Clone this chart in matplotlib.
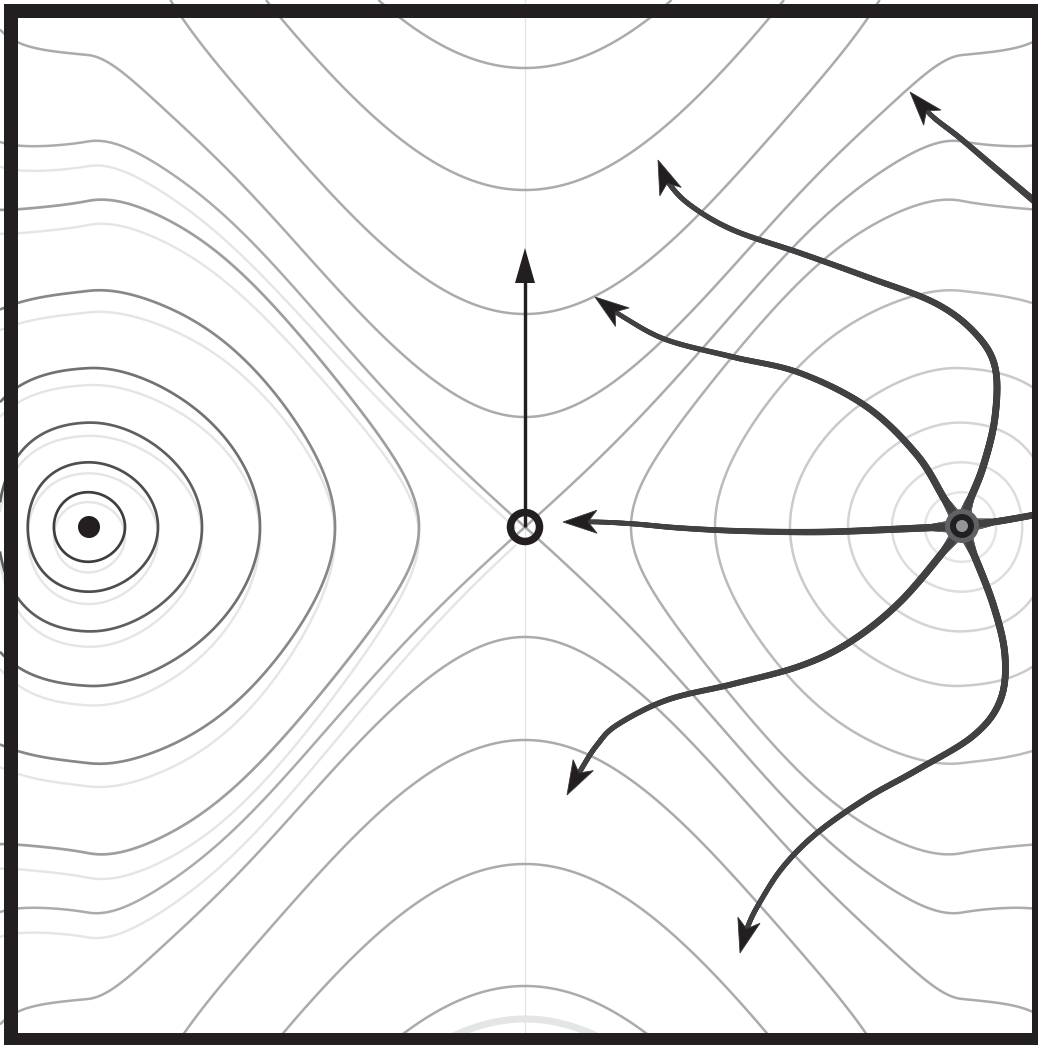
import numpy as np
import matplotlib
matplotlib.use("Agg")
import matplotlib.pyplot as plt
from matplotlib.patches import Circle, Rectangle, Polygon
from matplotlib.collections import LineCollection

# ---------------------------------------------------------------- canvas
W_PX, H_PX, DPI = 1038, 1045, 100
PX = 72.0 / DPI                     # points per pixel

# ---------------------------------------------------------------- key points (pixels)
saddle_xy = (525, 527)
left_min_xy = (89, 527)
right_pt_xy = (962, 526)
unit_px = 437.0                      # distance saddle -> well

# contour crossings (pixels)
ring_inner_x = [125, 158, 202, 260, 335, 419]      # closed rings, crossing on the axis (saddle side)
vertex_y = [417, 314, 190, 68]                     # hyperbola vertices above the saddle
bottom_vertex_y = 984                              # lowest dark hyperbola vertex
bottom_arc_vertex_y = 1019                         # light arc at the bottom

# colours
left_ring_colors = ["#3e3e40", "#4e4e50", "#5e5f61", "#707173", "#87888b", "#9c9ea1"]
right_ring_colors = ["#e3e4e5", "#dcdddf", "#d3d4d6", "#c9cacc", "#b9bbbd", "#adafb2"]
line_gray = "#a9abae"
light_gray = "#e4e5e6"
ink = "#231f20"
arm_gray = "#414042"
halo_gray = "#606163"
center_gray = "#939598"

# arrows (pixels)
up_arrow_start = (525, 527)
up_arrow_tip = (525, 248)

arm_saddle_x = [962, 900, 820, 740, 680, 635, 598, 563]
arm_saddle_y = [526, 529, 532, 531, 528, 524, 522, 522]
arm_right_x = [962, 1000, 1045]
arm_right_y = [526, 521, 513]
arm_upleft_x = [962, 945, 917, 867, 800, 733, 667, 625, 595]
arm_upleft_y = [526, 500, 455, 407, 373, 357, 340, 318, 297]
arm_up_x = [962, 968, 983, 995, 995, 975, 935, 867, 800, 733, 690, 668, 658]
arm_up_y = [526, 505, 467, 417, 367, 333, 303, 277, 253, 230, 205, 182, 160]
arm_downleft_x = [962, 947, 900, 850, 800, 733, 667, 617, 597, 582, 567]
arm_downleft_y = [526, 547, 602, 642, 666, 684, 700, 725, 745, 768, 795]
arm_down_x = [962, 970, 993, 1005, 1000, 973, 917, 867, 817, 783, 760, 748, 740]
arm_down_y = [526, 545, 604, 656, 701, 736, 770, 798, 833, 867, 902, 926, 953]
arm_topright_x = [1045, 1000, 960, 932, 910]
arm_topright_y = [210, 172, 138, 116, 92]


# ---------------------------------------------------------------- surface
def field(u, v):
    au = np.abs(u)
    base = (u ** 2 - 1) ** 2
    t_c = 0.41 * (np.sqrt(1 + (v / 0.29) ** 2) - 1)          # open growth near the saddle
    d = np.clip(au - 1, 0, None)
    amp = 4.29 - 32.0 * d ** 2
    kk = 2.95 - 12.5 * d ** 2
    t_w = amp * v ** 2 / (1 + kk * v ** 2)                    # round wells
    centre = 0.70 + 0.15 * (1 - np.exp(-(v / 0.7) ** 2))
    w = 1.0 / (1.0 + np.exp(-(au - centre) / 0.09))
    return base + (1 - w) * t_c + w * t_w


def to_uv(x, y):
    return (np.asarray(x, float) - saddle_xy[0]) / unit_px, (saddle_xy[1] - np.asarray(y, float)) / unit_px


def catmull_rom(xs, ys, n=40):
    P = np.column_stack([xs, ys]).astype(float)
    P = np.vstack([P[0], P, P[-1]])
    out = [P[1]]
    t = np.linspace(0, 1, n)[1:, None]
    for i in range(1, len(P) - 2):
        p0, p1, p2, p3 = P[i - 1], P[i], P[i + 1], P[i + 2]
        c1 = p1 + (p2 - p0) / 6.0
        c2 = p2 - (p3 - p1) / 6.0
        seg = (1 - t) ** 3 * p1 + 3 * (1 - t) ** 2 * t * c1 + 3 * (1 - t) * t ** 2 * c2 + t ** 3 * p2
        out.extend(seg)
    return np.array(out)


def draw_arm(ax, xs, ys, w0, w1, head=True, z=6):
    pts = catmull_rom(xs, ys)
    s = np.concatenate([[0], np.cumsum(np.hypot(*np.diff(pts, axis=0).T))])
    total = s[-1]
    L, HW, notch = 34, 11.5, 9
    body = pts
    if head:
        tip = pts[-1]
        j = np.searchsorted(s, total - 16)
        d = tip - pts[j]
        d = d / np.hypot(*d)
        nrm = np.array([-d[1], d[0]])
        body = pts[s <= total - (L - notch) + 2]
    sb = s[:len(body)]
    segs = np.stack([body[:-1], body[1:]], axis=1)
    frac = sb[:-1] / total
    widths = (w0 + (w1 - w0) * frac) * PX
    ax.add_collection(LineCollection(segs, linewidths=widths, colors=arm_gray,
                                     capstyle="round", joinstyle="round", zorder=z))
    near = s <= 30
    hp = pts[near]
    if len(hp) > 2 and np.hypot(*(pts[0] - np.array(right_pt_xy))) < 5:
        hs = np.stack([hp[:-1], hp[1:]], axis=1)
        hw = (15 - 8 * s[near][:-1] / 30.0) * PX
        ax.add_collection(LineCollection(hs, linewidths=hw, colors=halo_gray,
                                         capstyle="round", zorder=z - 0.5))
    if head:
        poly = [tip, tip - L * d + HW * nrm, tip - (L - notch) * d, tip - L * d - HW * nrm]
        ax.add_patch(Polygon(poly, closed=True, facecolor=ink, edgecolor="#3a3a3c",
                             lw=0.8 * PX, zorder=z + 1))


# ---------------------------------------------------------------- figure
fig = plt.figure(figsize=(W_PX / DPI, H_PX / DPI), dpi=DPI)
ax = fig.add_axes([0, 0, 1, 1])
ax.set_xlim(0, W_PX)
ax.set_ylim(H_PX, 0)
ax.axis("off")

gx = np.arange(0, W_PX + 2, 2.0)
gy = np.arange(0, H_PX + 2, 2.0)
X, Y = np.meshgrid(gx, gy)
U, Vv = to_uv(X, Y)
Z = field(U, Vv)

ring_levels = [float(field(to_uv(x, saddle_xy[1])[0], 0.0)) for x in ring_inner_x]
sep_level = float(field(0.0, 0.0))
hyper_levels = [float(field(0.0, to_uv(saddle_xy[0], y)[1])) for y in vertex_y]

# light vertical guide through the saddle
ax.plot([saddle_xy[0], saddle_xy[0]], [0, H_PX], color="#e3e4e5", lw=1.3 * PX, zorder=1)

# light "shadow" contours on the left basin
shift = 0.022 + 0.035 * (1 - np.exp(-(Vv / 0.4) ** 2))
ZL = field(U, Vv + shift)
ZL_left = np.where(U < -0.02, ZL, np.nan)
ax.contour(X, Y, ZL_left, levels=ring_levels + [sep_level], colors=light_gray,
           linewidths=2.4 * PX, zorder=1.5)

# light arc at the bottom (shadow of the lowest hyperbola)
dv = to_uv(0, bottom_vertex_y)[1] - to_uv(0, bottom_arc_vertex_y)[1]
low_level = float(field(0.0, to_uv(0, bottom_vertex_y)[1]))
ZB = field(U, Vv + dv)
ZB = np.where((Vv < -0.9) & (np.abs(U) < 0.4), ZB, np.nan)
ax.contour(X, Y, ZB, levels=[low_level], colors=light_gray, linewidths=7 * PX, zorder=1.5)

# wells: dark rings on the left, pale rings on the right
ax.contour(X, Y, np.where(U < 0, Z, np.nan), levels=ring_levels, colors=left_ring_colors,
           linewidths=2.7 * PX, zorder=2)
ax.contour(X, Y, np.where(U > 0, Z, np.nan), levels=ring_levels, colors=right_ring_colors,
           linewidths=2.5 * PX, zorder=2)
# separatrix and open contours
ax.contour(X, Y, Z, levels=[sep_level] + hyper_levels, colors=line_gray,
           linewidths=2.5 * PX, zorder=2)

# ---------------------------------------------------------------- arrows
arms = [
    (arm_right_x, arm_right_y, 7.0, 6.5, False),
    (arm_saddle_x, arm_saddle_y, 7.5, 4.5, True),
    (arm_upleft_x, arm_upleft_y, 7.5, 4.5, True),
    (arm_up_x, arm_up_y, 7.5, 4.8, True),
    (arm_downleft_x, arm_downleft_y, 7.5, 4.8, True),
    (arm_down_x, arm_down_y, 7.5, 4.8, True),
    (arm_topright_x, arm_topright_y, 7.0, 4.5, True),
]
for xs, ys, w0, w1, hd in arms:
    draw_arm(ax, xs, ys, w0, w1, head=hd)

# source point on the right
ax.add_patch(Circle(right_pt_xy, 17, facecolor=halo_gray, edgecolor="none", zorder=6.2))
ax.add_patch(Circle(right_pt_xy, 12, facecolor=ink, edgecolor="none", zorder=8))
ax.add_patch(Circle(right_pt_xy, 6, facecolor=center_gray, edgecolor="none", zorder=8.1))

# straight arrow from the saddle
hl, hw = 35, 10
ax.plot([up_arrow_start[0], up_arrow_tip[0]], [up_arrow_start[1], up_arrow_tip[1] + hl - 2],
        color=ink, lw=3.4 * PX, solid_capstyle="butt", zorder=7)
ax.add_patch(Polygon([up_arrow_tip, (up_arrow_tip[0] - hw, up_arrow_tip[1] + hl),
                      (up_arrow_tip[0] + hw, up_arrow_tip[1] + hl)], closed=True,
                     facecolor=ink, edgecolor="none", zorder=7))

# saddle marker and left minimum
ax.add_patch(Circle(saddle_xy, 14.5, fill=False, edgecolor=ink, lw=7.5 * PX, zorder=8))
ax.add_patch(Circle(left_min_xy, 11, facecolor=ink, edgecolor="none", zorder=8))

# frame
ax.add_patch(Rectangle((11, 11), 1028, 1029, fill=False, edgecolor=ink, lw=14 * PX, zorder=10))

fig.savefig("out.png", dpi=DPI, facecolor="white")
